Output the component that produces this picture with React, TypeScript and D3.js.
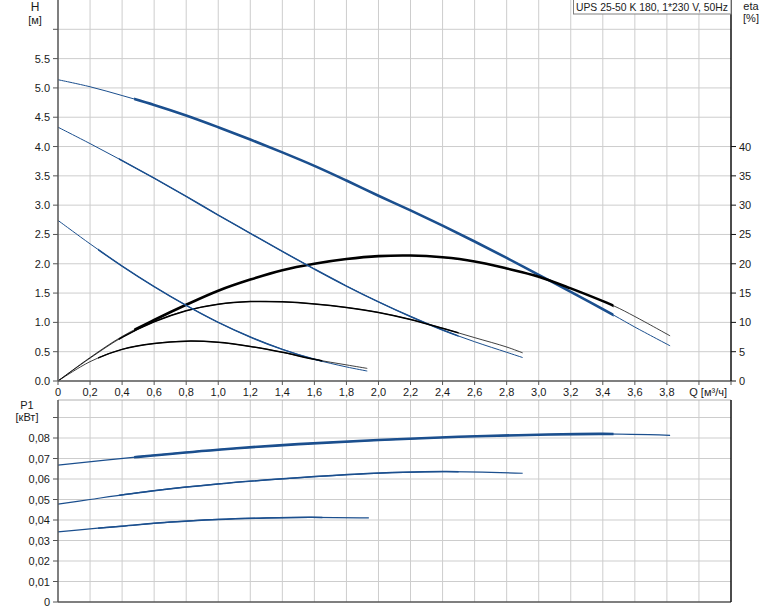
import React from "react";
import * as d3 from "d3";

// ---------- data ----------
// Speed 3 (max)
const q3 = [0, 0.2, 0.4, 0.6, 0.8, 1.0, 1.2, 1.4, 1.6, 1.8, 2.0, 2.2, 2.4, 2.6, 2.8, 3.0, 3.2, 3.47, 3.6, 3.82];
const head3 = [5.14, 5.02, 4.87, 4.71, 4.53, 4.33, 4.12, 3.9, 3.67, 3.42, 3.16, 2.91, 2.65, 2.38, 2.1, 1.81, 1.52, 1.12, 0.92, 0.6];
const eta3 = [0, 4.0, 7.6, 10.4, 13.0, 15.4, 17.3, 18.9, 20.0, 20.8, 21.3, 21.4, 21.1, 20.4, 19.2, 17.8, 15.8, 12.8, 11.0, 7.7];
const pq3 = [0, 0.5, 1.0, 1.5, 2.0, 2.5, 3.0, 3.4, 3.82];
const power3 = [0.0668, 0.0708, 0.0743, 0.077, 0.079, 0.0806, 0.0816, 0.082, 0.0813];
const best3 = [0.475, 3.467];

// Speed 2
const q2 = [0, 0.2, 0.4, 0.6, 0.8, 1.0, 1.2, 1.4, 1.6, 1.8, 2.0, 2.2, 2.4, 2.6, 2.8, 2.9];
const head2 = [4.33, 4.05, 3.76, 3.46, 3.15, 2.83, 2.52, 2.21, 1.91, 1.62, 1.35, 1.1, 0.87, 0.67, 0.49, 0.4];
const eta2 = [0, 3.9, 7.45, 10.1, 12.0, 13.1, 13.55, 13.5, 13.15, 12.55, 11.7, 10.5, 9.0, 7.4, 5.8, 4.8];
const pq2 = [0, 0.2, 0.6, 1.0, 1.4, 1.85, 2.4, 2.9];
const power2 = [0.0477, 0.05, 0.0543, 0.0576, 0.0601, 0.0623, 0.0636, 0.0628];
const best2 = [0.38, 2.5];

// Speed 1
const q1 = [0, 0.2, 0.4, 0.6, 0.8, 1.0, 1.2, 1.4, 1.6, 1.8, 1.93];
const head1 = [2.74, 2.34, 1.96, 1.61, 1.29, 1.0, 0.75, 0.54, 0.37, 0.24, 0.17];
const eta1 = [0, 3.3, 5.4, 6.4, 6.8, 6.6, 5.9, 4.9, 3.7, 2.75, 2.15];
const pq1 = [0, 0.2, 0.4, 0.7, 1.0, 1.3, 1.57, 1.94];
const power1 = [0.0342, 0.0357, 0.037, 0.039, 0.0403, 0.041, 0.0413, 0.041];
const best1 = [0.25, 1.65];

// ticks
const qTickValues = [0, 0.2, 0.4, 0.6, 0.8, 1.0, 1.2, 1.4, 1.6, 1.8, 2.0, 2.2, 2.4, 2.6, 2.8, 3.0, 3.2, 3.4, 3.6, 3.8, 4.0, 4.2];
const qTickLabels = ["0", "0,2", "0,4", "0,6", "0,8", "1,0", "1,2", "1,4", "1,6", "1,8", "2,0", "2,2", "2,4", "2,6", "2,8", "3,0", "3,2", "3,4", "3,6", "3,8", "Q [м³/ч]", ""];
const hTickValues = [0, 0.5, 1.0, 1.5, 2.0, 2.5, 3.0, 3.5, 4.0, 4.5, 5.0, 5.5, 6.0];
const hTickLabels = ["0.0", "0.5", "1.0", "1.5", "2.0", "2.5", "3.0", "3.5", "4.0", "4.5", "5.0", "5.5", ""];
const etaTickValues = [0, 5, 10, 15, 20, 25, 30, 35, 40];
const etaTickLabels = ["0", "5", "10", "15", "20", "25", "30", "35", "40"];
const pTickValues = [0, 0.01, 0.02, 0.03, 0.04, 0.05, 0.06, 0.07, 0.08, 0.09];
const pTickLabels = ["0", "0,01", "0,02", "0,03", "0,04", "0,05", "0,06", "0,07", "0,08", ""];

const titleText = "UPS 25-50 K 180, 1*230 V, 50Hz";

// ---------- layout ----------
const W = 774;
const HGT = 611;
const X0 = 58;
const X1 = 731;
const TOP_Y0 = 0;
const TOP_Y1 = 381;
const BOT_Y0 = 400;
const BOT_Y1 = 602;

const FONT = "'Liberation Sans', Arial, sans-serif";
const BLUE = "#1b4f8e";
const GRID = "#cdcdcd";
const TXT = "#1a1a1a";

export default function App() {
  const x = d3.scaleLinear().domain([0, 4.2]).range([X0, X1]);
  const yH = d3.scaleLinear().domain([0, 6.5]).range([TOP_Y1, TOP_Y0]);
  const yEta = d3.scaleLinear().domain([0, 65]).range([TOP_Y1, TOP_Y0]);
  const yP = d3.scaleLinear().domain([0, 0.1]).range([BOT_Y1, BOT_Y1 - 205]);

  const mk = (ys: (v: number) => number) =>
    d3
      .line<[number, number]>()
      .x((d) => x(d[0]))
      .y((d) => ys(d[1]))
      .curve(d3.curveCatmullRom.alpha(0.5));
  const lineH = mk(yH);
  const lineE = mk(yEta);
  const lineP = mk(yP);
  const zip = (a: number[], b: number[]) => a.map((v, i) => [v, b[i]] as [number, number]);

  const series = [
    { id: "s3", q: q3, h: head3, e: eta3, pq: pq3, p: power3, best: best3, w: 2.6 },
    { id: "s2", q: q2, h: head2, e: eta2, pq: pq2, p: power2, best: best2, w: 1.5 },
    { id: "s1", q: q1, h: head1, e: eta1, pq: pq1, p: power1, best: best1, w: 1.5 },
  ];

  const vGrid = qTickValues.filter((v) => v > 0 && v < 4.1);
  const hGrid = hTickValues.filter((v) => v > 0);
  const pGrid = pTickValues.filter((v) => v > 0);

  return (
    <div style={{ position: "absolute", left: 0, top: 0 }}>
      <svg width={W} height={HGT} style={{ display: "block", background: "#fff" }} fontFamily={FONT}>
        <defs>
          {series.map((s) => (
            <clipPath id={"clip-" + s.id} key={s.id}>
              <rect x={x(s.best[0])} y={0} width={x(s.best[1]) - x(s.best[0])} height={HGT} />
            </clipPath>
          ))}
        </defs>

        {/* ---------- top chart grid ---------- */}
        {vGrid.map((v) => (
          <line key={"tv" + v} x1={x(v)} x2={x(v)} y1={TOP_Y0} y2={TOP_Y1} stroke={GRID} strokeWidth={1} />
        ))}
        {hGrid.map((v) => (
          <line key={"th" + v} x1={X0} x2={X1} y1={yH(v)} y2={yH(v)} stroke={GRID} strokeWidth={1} />
        ))}

        {/* ---------- bottom chart grid ---------- */}
        {vGrid.map((v) => (
          <line key={"bv" + v} x1={x(v)} x2={x(v)} y1={BOT_Y0} y2={BOT_Y1} stroke={GRID} strokeWidth={1} />
        ))}
        {pGrid.map((v) => (
          <line key={"bh" + v} x1={X0} x2={X1} y1={yP(v)} y2={yP(v)} stroke={GRID} strokeWidth={1} />
        ))}
        <line x1={X0} x2={X1} y1={BOT_Y0} y2={BOT_Y0} stroke="#b0b0b0" strokeWidth={1} />

        {/* ---------- curves: top ---------- */}
        {series.map((s) => (
          <g key={"c" + s.id}>
            <path d={lineH(zip(s.q, s.h)) || ""} fill="none" stroke={BLUE} strokeWidth={1} />
            <path d={lineE(zip(s.q, s.e)) || ""} fill="none" stroke="#000" strokeWidth={1} opacity={0.75} />
            <g clipPath={`url(#clip-${s.id})`}>
              <path d={lineH(zip(s.q, s.h)) || ""} fill="none" stroke={BLUE} strokeWidth={s.w} />
              <path d={lineE(zip(s.q, s.e)) || ""} fill="none" stroke="#000" strokeWidth={s.w} />
            </g>
          </g>
        ))}

        {/* ---------- curves: bottom ---------- */}
        {series.map((s) => (
          <g key={"p" + s.id}>
            <path d={lineP(zip(s.pq, s.p)) || ""} fill="none" stroke={BLUE} strokeWidth={1.2} />
            <g clipPath={`url(#clip-${s.id})`}>
              <path d={lineP(zip(s.pq, s.p)) || ""} fill="none" stroke={BLUE} strokeWidth={s.w} />
            </g>
          </g>
        ))}

        {/* ---------- axes: top ---------- */}
        <line x1={X0} x2={X0} y1={TOP_Y0} y2={TOP_Y1} stroke="#555" strokeWidth={1.5} />
        <line x1={X0} x2={X1} y1={TOP_Y1} y2={TOP_Y1} stroke="#555" strokeWidth={1.5} />
        <line x1={X1} x2={X1} y1={TOP_Y0} y2={TOP_Y1} stroke="#111" strokeWidth={1.5} />

        {hTickValues.map((v, i) => (
          <g key={"hl" + v}>
            <line x1={X0 - 5} x2={X0} y1={yH(v)} y2={yH(v)} stroke="#555" />
            <text x={X0 - 8} y={yH(v) + 4} fontSize={11} textAnchor="end" fill={TXT}>
              {hTickLabels[i]}
            </text>
          </g>
        ))}
        {etaTickValues.map((v, i) => (
          <g key={"el" + v}>
            <line x1={X1} x2={X1 + 5} y1={yEta(v)} y2={yEta(v)} stroke="#111" />
            <text x={X1 + 8} y={yEta(v) + 4} fontSize={11} textAnchor="start" fill={TXT}>
              {etaTickLabels[i]}
            </text>
          </g>
        ))}
        {qTickValues.map((v, i) => (
          <g key={"ql" + v}>
            <line x1={x(v)} x2={x(v)} y1={TOP_Y1} y2={TOP_Y1 + 4} stroke="#555" />
            <text
              x={i === 20 ? X1 - 4 : x(v)}
              y={TOP_Y1 + 15}
              fontSize={11}
              textAnchor={i === 20 ? "end" : "middle"}
              fill={TXT}
            >
              {qTickLabels[i]}
            </text>
          </g>
        ))}

        <text x={35} y={11} fontSize={12} textAnchor="middle" fill={TXT}>H</text>
        <text x={35} y={24} fontSize={11} textAnchor="middle" fill={TXT}>[м]</text>
        <text x={751} y={10} fontSize={11} textAnchor="middle" fill={TXT}>eta</text>
        <text x={751} y={22} fontSize={11} textAnchor="middle" fill={TXT}>[%]</text>

        {/* title box */}
        <rect x={573.5} y={-1} width={X1 - 573.5} height={15} fill="#fff" stroke="#808080" strokeWidth={1} />
        <text x={576} y={11} fontSize={11} fill={TXT} textLength={152} lengthAdjust="spacingAndGlyphs">
          {titleText}
        </text>

        {/* ---------- axes: bottom ---------- */}
        <line x1={X0} x2={X0} y1={BOT_Y0} y2={BOT_Y1} stroke="#555" strokeWidth={1.5} />
        <line x1={X0} x2={X1} y1={BOT_Y1} y2={BOT_Y1} stroke="#555" strokeWidth={1.5} />
        <line x1={X1} x2={X1} y1={BOT_Y0} y2={BOT_Y1} stroke="#111" strokeWidth={1.5} />
        {pTickValues.map((v, i) => (
          <g key={"pl" + v}>
            <line x1={X0 - 5} x2={X0} y1={yP(v)} y2={yP(v)} stroke="#555" />
            <text x={X0 - 8} y={yP(v) + 4} fontSize={11} textAnchor="end" fill={TXT}>
              {pTickLabels[i]}
            </text>
          </g>
        ))}
        <text x={27} y={409} fontSize={11} textAnchor="middle" fill={TXT}>P1</text>
        <text x={27} y={421} fontSize={11} textAnchor="middle" fill={TXT}>[кВт]</text>
      </svg>
    </div>
  );
}
